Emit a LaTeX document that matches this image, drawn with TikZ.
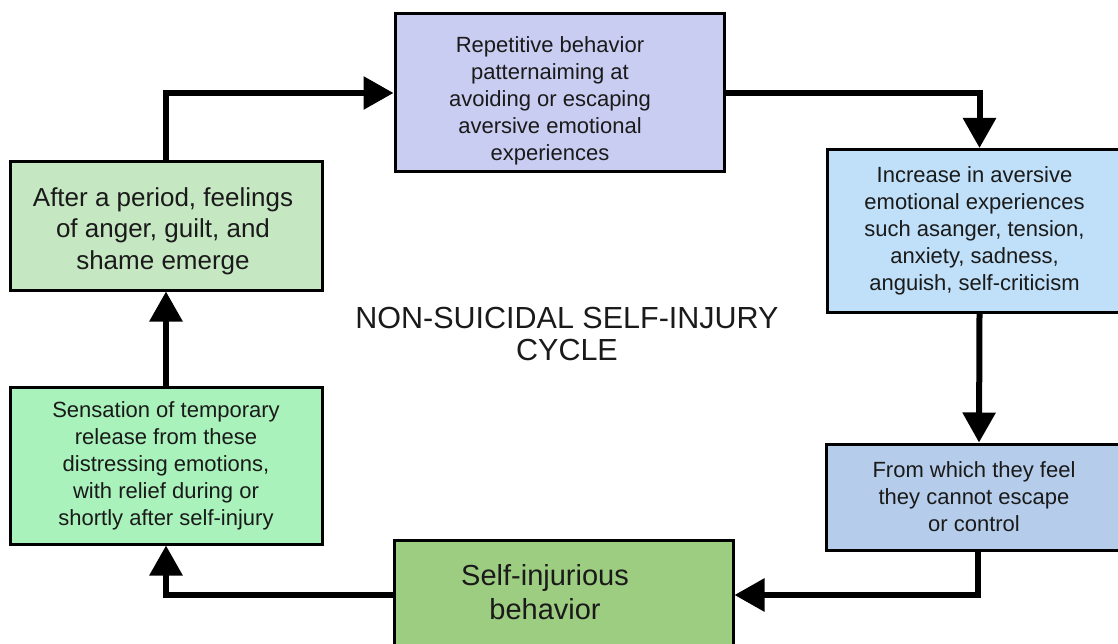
\documentclass[tikz,border=0pt]{standalone}
\usepackage{fontspec}
\setmainfont{Liberation Sans}
\usetikzlibrary{arrows.meta}
\definecolor{cTop}{HTML}{CACDF2}
\definecolor{cRtop}{HTML}{BFE0F8}
\definecolor{cRbot}{HTML}{B5CDEB}
\definecolor{cBot}{HTML}{9DCD80}
\definecolor{cLtop}{HTML}{C5E8C2}
\definecolor{cLbot}{HTML}{A9F2BB}
\definecolor{txt}{HTML}{1A1A1A}
\tikzset{
  box/.style={draw=black, line width=3pt, rectangle, align=center, text=txt, inner sep=0pt},
  lbl/.style={align=center, text=txt, inner sep=0pt},
  small/.style={font=\fontsize{22}{27}\selectfont},
  conn/.style={line width=6pt, -{Triangle[length=30pt 0 0, width=32pt 0 0]}},
}
\begin{document}
\begin{tikzpicture}[x=1pt,y=-1pt]
\useasboundingbox (0,0) rectangle (1118,644);
\clip (0,0) rectangle (1118,644);
\node[box, fill=cTop, minimum width=329pt, minimum height=158pt] (b1) at (559.5,93) {};
\node[lbl, small] (b1t) at (550,101)
  {Repetitive behavior\\patternaiming at\\avoiding or escaping\\aversive emotional\\experiences};
\node[box, small, fill=cRtop, minimum width=295pt, minimum height=163pt] (b2) at (974.5,231)
  {Increase in aversive\\emotional experiences\\such asanger, tension,\\anxiety, sadness,\\anguish, self-criticism};
\node[box, small, fill=cRbot, minimum width=296pt, minimum height=106pt] (b3) at (974,497)
  {From which they feel\\they cannot escape\\or control};
\node[box, fill=cBot, minimum width=339pt, minimum height=110pt] (b4) at (563.5,595) {};
\node[lbl, font=\fontsize{29}{34}\selectfont] (b4t) at (545,592)
  {Self-injurious\\behavior};
\node[box, small, fill=cLbot, minimum width=312pt, minimum height=157pt] (b6) at (166,465.5)
  {Sensation of temporary\\release from these\\distressing emotions,\\with relief during or\\shortly after self-injury};
\node[box, fill=cLtop, minimum width=312pt, minimum height=128pt] (b5) at (166,226) {};
\node[lbl, font=\fontsize{26}{31.5}\selectfont] (b5t) at (163,231)
  {After a period, feelings\\of anger, guilt, and\\shame emerge};
\node[lbl, font=\fontsize{30.5}{32}\selectfont] (title) at (567,334)
  {NON-SUICIDAL SELF-INJURY\\CYCLE};
\draw[conn] (b5.north) |- (b1.west);
\draw[conn] (b1.east) -| ([xshift=5pt]b2.north);
\draw[conn] ([xshift=5pt]b2.south) -- ([xshift=5pt]b3.north);
\draw[conn] ([xshift=4pt]b3.south) |- (b4.east);
\draw[conn] (b4.west) -| (b6.south);
\draw[conn] (b6.north) -- (b5.south);
\end{tikzpicture}
\end{document}
